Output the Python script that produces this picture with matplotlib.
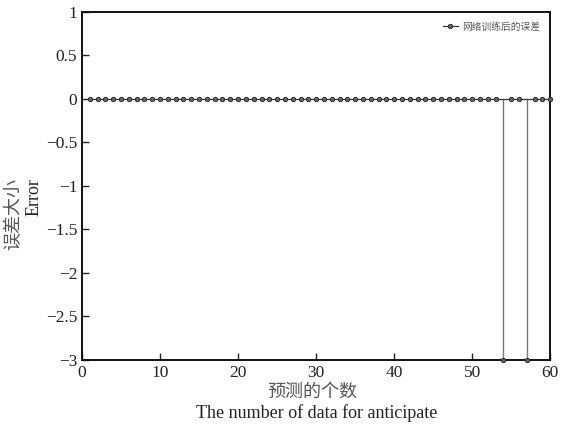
import matplotlib
matplotlib.use('Agg')
import matplotlib.pyplot as plt

# prediction error per sample after training
sample_idx = list(range(1, 61))
error_vals = [0.0] * 60
error_vals[53] = -3.0   # sample 54
error_vals[56] = -3.0   # sample 57

x_ticks = [0, 10, 20, 30, 40, 50, 60]
y_ticks = [-3, -2.5, -2, -1.5, -1, -0.5, 0, 0.5, 1]
y_ticklabels = ['\u22123', '\u22122.5', '\u22122', '\u22121.5', '\u22121', '\u22120.5', '0', '0.5', '1']

serif = ['Liberation Serif', 'Noto Sans CJK SC']
cjk = ['Noto Sans CJK SC', 'Liberation Serif']
plt.rcParams['font.family'] = serif

fig = plt.figure(figsize=(5.62, 4.28), dpi=100)
ax = fig.add_axes([0.146, 0.159, 0.833, 0.813])

# stem style: baseline at zero, vertical drop for each nonzero error
ax.plot(sample_idx, [0] * len(sample_idx), color='#333333', lw=0.9, zorder=2)
for xi, yi in zip(sample_idx, error_vals):
    if yi != 0:
        ax.vlines(xi, yi, 0, color='#777777', lw=1.0, zorder=1)
ax.plot(sample_idx, error_vals, ls='none', marker='o', ms=3.2,
        mfc='#666666', mec='#222222', mew=0.6, zorder=3, clip_on=False)

# legend proxy
ax.plot([], [], color='#333333', lw=0.9, marker='o', ms=3.2,
        mfc='#666666', mec='#222222', mew=0.6, label='网络训练后的误差')

ax.set_xlim(0, 60)
ax.set_ylim(-3, 1)
ax.set_xticks(x_ticks)
ax.set_yticks(y_ticks)
ax.set_yticklabels(y_ticklabels)
ax.tick_params(direction='in', length=5, width=1, labelsize=12.5, colors='#222222')
for s in ax.spines.values():
    s.set_linewidth(1.4)
    s.set_color('#111111')

fig.text(0.556, 0.086, '预测的个数', ha='center', va='center', fontsize=13,
         family=cjk, color='#555555')
fig.text(0.563, 0.036, 'The number of data for anticipate', ha='center', va='center',
         fontsize=13, family=serif, color='#222222')
fig.text(0.024, 0.50, '误差大小', ha='center', va='center', rotation=90, fontsize=13,
         family=cjk, color='#555555')
fig.text(0.060, 0.54, 'Error', ha='center', va='center', rotation=90, fontsize=13,
         family=serif, color='#222222')

ax.legend(loc='upper right', frameon=False, prop={'family': cjk, 'size': 7},
          handlelength=1.5, handletextpad=0.5, borderaxespad=0.6,
          labelcolor='#555555')

fig.savefig('out.png', dpi=100)
